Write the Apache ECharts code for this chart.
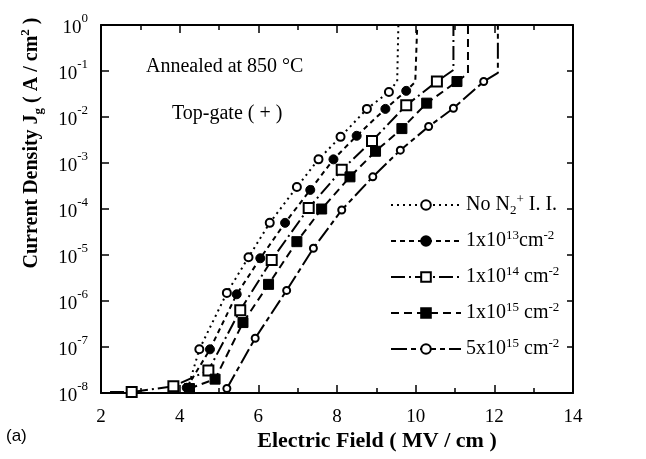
<!DOCTYPE html>
<html><head><meta charset="utf-8">
<script src="https://cdn.jsdelivr.net/npm/echarts@6/dist/echarts.min.js"></script>
<style>html,body{margin:0;padding:0;background:#fff}#c{width:646px;height:459px}</style>
</head><body><div id="c"></div>
<script>
// ---- data ----
const xTicks = [2, 4, 6, 8, 10, 12, 14];
const yTickExps = [0, -1, -2, -3, -4, -5, -6, -7, -8];

// No N2+ I.I.
const noX = [4.20, 4.50, 5.20, 5.75, 6.29, 6.98, 7.53, 8.09, 8.76, 9.32, 9.53, 9.56, 9.56];
const noY = [1.2e-8, 8.9e-8, 1.5e-6, 8.9e-6, 5.0e-5, 3.0e-4, 1.2e-3, 3.7e-3, 1.5e-2, 3.5e-2, 6.0e-2, 6.5e-2, 1];
const noM = [0, 1, 1, 1, 1, 1, 1, 1, 1, 1, 0, 0, 0];
// 1x10^13
const e13X = [4.18, 4.77, 5.45, 6.05, 6.68, 7.32, 7.91, 8.50, 9.23, 9.76, 9.99, 10.04, 10.04];
const e13Y = [1.3e-8, 8.9e-8, 1.4e-6, 8.5e-6, 5.0e-5, 2.6e-4, 1.2e-3, 3.9e-3, 1.5e-2, 3.7e-2, 5.8e-2, 6.3e-2, 1];
const e13M = [1, 1, 1, 1, 1, 1, 1, 1, 1, 1, 0, 0, 0];
// 1x10^14
const e14X = [2.23, 2.78, 3.84, 4.73, 5.54, 6.34, 7.28, 8.12, 8.89, 9.76, 10.54, 10.96, 10.96];
const e14Y = [1.05e-8, 1.05e-8, 1.4e-8, 3.1e-8, 6.3e-7, 7.8e-6, 1.05e-4, 7.1e-4, 3.0e-3, 1.8e-2, 5.9e-2, 1.05e-1, 1];
const e14M = [0, 1, 1, 1, 1, 1, 1, 1, 1, 1, 1, 0, 0];
// 1x10^15
const e15X = [4.25, 4.90, 5.61, 6.26, 6.98, 7.61, 8.33, 8.98, 9.65, 10.28, 11.05, 11.33, 11.33];
const e15Y = [1.25e-8, 2.0e-8, 3.4e-7, 2.3e-6, 1.95e-5, 1.0e-4, 5.0e-4, 1.8e-3, 5.6e-3, 2.0e-2, 5.9e-2, 8.9e-2, 1];
const e15M = [1, 1, 1, 1, 1, 1, 1, 1, 1, 1, 1, 0, 0];
// 5x10^15
const f15X = [5.20, 5.92, 6.72, 7.40, 8.12, 8.91, 9.61, 10.33, 10.96, 11.73, 12.09, 12.09];
const f15Y = [1.25e-8, 1.55e-7, 1.7e-6, 1.4e-5, 9.5e-5, 5.0e-4, 1.9e-3, 6.2e-3, 1.55e-2, 5.9e-2, 9.1e-2, 1];
const f15M = [1, 1, 1, 1, 1, 1, 1, 1, 1, 1, 0, 0];

const seriesNames = ['No', 'e13', 'e14', 'e15', 'f15'];
const legendLabels = {
  No: 'No N{sub|2}{sup|+} I. I.',
  e13: '1x10{sup|13}cm{sup|-2}',
  e14: '1x10{sup|14} cm{sup|-2}',
  e15: '1x10{sup|15} cm{sup|-2}',
  f15: '5x10{sup|15} cm{sup|-2}'
};

const SERIF = '"Liberation Serif", "DejaVu Serif", serif';

function mk(name, xs, ys, ms, symbol, size, dash, border) {
  return {
    name: name, type: 'line',
    data: xs.map((x, i) => ({ value: [x, ys[i]], symbol: ms[i] ? symbol : 'none' })),
    symbol: symbol, symbolSize: size, showAllSymbol: true,
    lineStyle: { color: '#000', width: 2, type: dash },
    itemStyle: { color: '#000', borderColor: '#000', borderWidth: border },
    emphasis: { disabled: true }, z: 3
  };
}

const chart = echarts.init(document.getElementById('c'), null, { renderer: 'canvas' });
chart.setOption({
  animation: false,
  backgroundColor: '#fff',
  grid: { left: 101, right: 73, top: 25, bottom: 66 },
  xAxis: [{
    type: 'value', min: 2, max: 14, interval: 2, position: 'bottom',
    axisLine: { lineStyle: { color: '#000', width: 2 } },
    axisTick: { inside: true, length: 8, lineStyle: { color: '#000', width: 1.5 } },
    minorTick: { show: true, splitNumber: 2, length: 5, lineStyle: { color: '#000', width: 1.5 } },
    splitLine: { show: false },
    axisLabel: { color: '#000', fontFamily: SERIF, fontSize: 19, margin: 15,
      formatter: v => (xTicks.indexOf(v) >= 0 ? String(v) : '') }
  }, {
    type: 'value', min: 2, max: 14, interval: 2, position: 'top',
    axisLine: { lineStyle: { color: '#000', width: 2 } },
    axisTick: { inside: true, length: 8, lineStyle: { color: '#000', width: 1.5 } },
    minorTick: { show: true, splitNumber: 2, length: 5, lineStyle: { color: '#000', width: 1.5 } },
    splitLine: { show: false }, axisLabel: { show: false }
  }],
  yAxis: [{
    type: 'log', logBase: 10, min: 1e-8, max: 1, splitNumber: 8, position: 'left',
    axisLine: { show: true, lineStyle: { color: '#000', width: 2 } },
    axisTick: { show: true, inside: true, length: 8, lineStyle: { color: '#000', width: 1.5 } },
    splitLine: { show: false },
    axisLabel: { margin: 13, formatter: v => {
        const e = Math.round(Math.log10(v));
        return yTickExps.indexOf(e) >= 0 ? '{b|10}{s|' + e + '}' : '';
      },
      rich: {
        b: { fontFamily: SERIF, fontSize: 19, color: '#000', lineHeight: 26, verticalAlign: 'bottom' },
        s: { fontFamily: SERIF, fontSize: 13, color: '#000', lineHeight: 26, verticalAlign: 'top' }
      } }
  }, {
    type: 'log', logBase: 10, min: 1e-8, max: 1, splitNumber: 8, position: 'right',
    axisLine: { show: true, lineStyle: { color: '#000', width: 2 } },
    axisTick: { show: true, inside: true, length: 6, lineStyle: { color: '#000', width: 1.5 } },
    splitLine: { show: false }, axisLabel: { show: false }
  }],
  legend: {
    orient: 'vertical', left: 385, top: 188, itemWidth: 70, itemHeight: 12, itemGap: 12,
    data: seriesNames,
    formatter: n => legendLabels[n],
    textStyle: { color: '#000', fontFamily: SERIF, fontSize: 20, lineHeight: 24,
      rich: {
        sup: { fontFamily: SERIF, fontSize: 13, verticalAlign: 'top', lineHeight: 24, color: '#000' },
        sub: { fontFamily: SERIF, fontSize: 13, verticalAlign: 'bottom', lineHeight: 24, color: '#000' }
      } },
    selectedMode: false
  },
  series: [
    mk('No', noX, noY, noM, 'emptyCircle', 8, [2, 4], 1.8),
    mk('e13', e13X, e13Y, e13M, 'circle', 9, [5, 4], 1),
    mk('e14', e14X, e14Y, e14M, 'emptyRect', 10, [14, 4, 2, 4], 1.8),
    mk('e15', e15X, e15Y, e15M, 'rect', 10, [8, 5], 1),
    mk('f15', f15X, f15Y, f15M, 'emptyCircle', 7, [16, 4, 5, 4], 2.5)
  ],
  graphic: [
    { type: 'text', left: 146, top: 57, style: { text: 'Annealed at 850 °C', font: '20px ' + SERIF, fill: '#000' } },
    { type: 'text', left: 172, top: 104, style: { text: 'Top-gate ( + )', font: '20px ' + SERIF, fill: '#000' } },
    { type: 'text', x: 32, y: 143, rotation: Math.PI / 2,
      style: { text: '{t|Current Density J}{g|g}{t| ( A / cm}{p|2}{t| )}', align: 'center', verticalAlign: 'middle',
        rich: {
          t: { fontFamily: SERIF, fontSize: 20, fontWeight: 'bold', fill: '#000', lineHeight: 26, verticalAlign: 'middle' },
          g: { fontFamily: SERIF, fontSize: 13, fontWeight: 'bold', fill: '#000', lineHeight: 26, verticalAlign: 'bottom' },
          p: { fontFamily: SERIF, fontSize: 13, fontWeight: 'bold', fill: '#000', lineHeight: 26, verticalAlign: 'top' }
        } } },
    { type: 'text', x: 377, y: 441, style: { text: 'Electric Field ( MV / cm )', align: 'center', verticalAlign: 'middle',
        font: 'bold 22px ' + SERIF, fill: '#000' } },
    { type: 'text', left: 6, top: 428, style: { text: '(a)', font: '17px "Liberation Sans", Arial, sans-serif', fill: '#000' } }
  ]
});
</script></body></html>
